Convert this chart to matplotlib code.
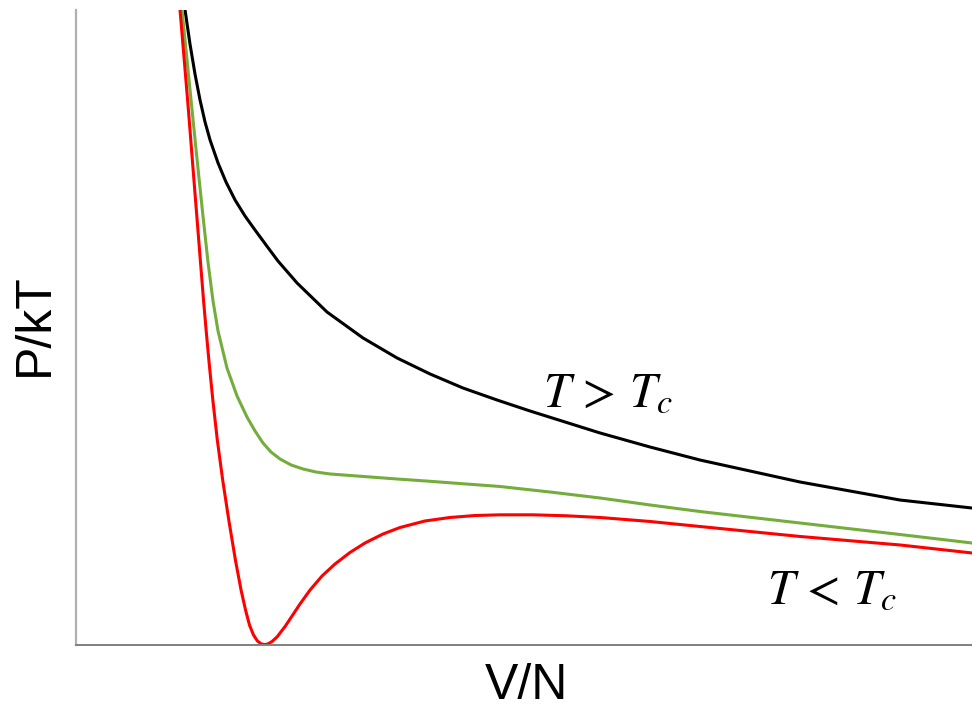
import matplotlib
matplotlib.use('Agg')
from matplotlib import pyplot as plt

# isotherms (arbitrary units, V/N and P/kT both 0..10)
v_hot = [1.217, 1.272, 1.328, 1.384, 1.440, 1.496, 1.585, 1.674, 1.775, 1.886,
         1.998, 2.121, 2.254, 2.467, 2.801, 3.203, 3.583, 3.951, 4.319, 4.699,
         5.067, 5.848, 6.406, 6.964, 7.522, 8.080, 8.638, 9.196, 10.0]
p_hot = [10.0, 9.465, 8.992, 8.583, 8.236, 7.953, 7.591, 7.291, 7.008, 6.756,
         6.535, 6.299, 6.047, 5.701, 5.244, 4.835, 4.520, 4.268, 4.047, 3.858,
         3.685, 3.339, 3.118, 2.913, 2.740, 2.567, 2.425, 2.283, 2.157]

v_crit = [1.183, 1.295, 1.362, 1.417, 1.473, 1.529, 1.585, 1.685, 1.797, 1.908,
          1.998, 2.087, 2.176, 2.277, 2.400, 2.533, 2.679, 2.835, 3.203, 3.583,
          3.951, 4.319, 4.732, 5.290, 5.848, 6.406, 6.964, 8.080, 9.196, 10.0]
p_crit = [10.0, 8.425, 7.496, 6.756, 6.031, 5.417, 4.945, 4.362, 3.921, 3.591,
          3.370, 3.181, 3.039, 2.929, 2.835, 2.772, 2.724, 2.693, 2.654, 2.614,
          2.578, 2.539, 2.496, 2.409, 2.315, 2.205, 2.102, 1.921, 1.740, 1.606]

v_cold = [1.161, 1.250, 1.309, 1.390, 1.423, 1.452, 1.488, 1.527, 1.577, 1.637,
          1.705, 1.779, 1.842, 1.892, 1.936, 1.981, 2.025, 2.065, 2.104, 2.143,
          2.188, 2.243, 2.333, 2.422, 2.500, 2.612, 2.746, 2.891, 3.058, 3.225,
          3.426, 3.616, 3.895, 4.174, 4.453, 4.732, 5.100, 5.469, 5.848, 6.406,
          6.964, 8.080, 9.196, 10.0]
p_cold = [10.0, 8.504, 7.449, 6.016, 5.433, 4.961, 4.409, 3.858, 3.228, 2.598,
          1.969, 1.339, 0.866, 0.551, 0.315, 0.157, 0.063, 0.019, 0.006, 0.017,
          0.055, 0.126, 0.291, 0.480, 0.646, 0.866, 1.087, 1.276, 1.457, 1.606,
          1.748, 1.850, 1.953, 2.008, 2.039, 2.050, 2.050, 2.035, 2.008, 1.945,
          1.866, 1.709, 1.575, 1.449]

plt.rcParams['mathtext.fontset'] = 'stix'

fig = plt.figure(figsize=(9.72, 7.08), dpi=100)
ax = fig.add_axes([0.0782, 0.089, 1.0 - 0.0782, 0.9859 - 0.089])

ax.plot(v_hot, p_hot, color='black', lw=2.2, solid_joinstyle='round')
ax.plot(v_crit, p_crit, color='#74ad3c', lw=2.2, solid_joinstyle='round')
ax.plot(v_cold, p_cold, color='#ff0000', lw=2.2, solid_joinstyle='round')

ax.text(5.94, 3.98, r'$T\,>\,T_c$', fontsize=35, ha='center', va='center')
ax.text(8.44, 0.87, r'$T\,<\,T_c$', fontsize=35, ha='center', va='center')

ax.set_xlim(0, 10)
ax.set_ylim(0, 10)
ax.set_xticks([])
ax.set_yticks([])
for s in ['top', 'right']:
    ax.spines[s].set_visible(False)
ax.spines['left'].set_color('#b0b0b0')
ax.spines['left'].set_linewidth(1.6)
ax.spines['bottom'].set_color('#808080')
ax.spines['bottom'].set_linewidth(1.4)

fig.text(526 / 972, 1 - 686 / 708, 'V/N', fontsize=36, family='Liberation Sans',
         ha='center', va='center')
fig.text(35 / 972, 1 - 325 / 708, 'P/kT', fontsize=36, family='Liberation Sans',
         ha='center', va='center', rotation=90)

fig.savefig('out.png', dpi=100)
plt.close()
